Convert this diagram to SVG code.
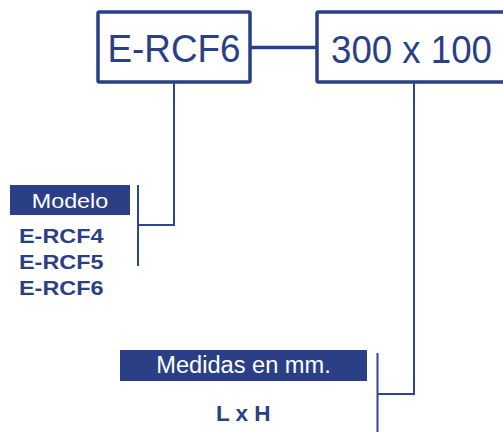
<svg xmlns="http://www.w3.org/2000/svg" width="503" height="432" viewBox="0 0 503 432">
<style>
.box{fill:#fff;stroke:#2b3f86;stroke-width:3.5}
.big{font-family:"Liberation Sans",Arial,sans-serif;font-size:39.5px;fill:#2b3f86}
.ban{fill:#2b3f86}
.bt{font-family:"Liberation Sans",Arial,sans-serif;fill:#fff}
.bold{font-family:"Liberation Sans",Arial,sans-serif;font-weight:bold;fill:#2b3f86}
.ln{fill:none;stroke:#2f4597;stroke-width:2}
</style>
<rect width="503" height="432" fill="#fff"/>
<g id="connectors">
<line class="ln" x1="250" y1="47.5" x2="317" y2="47.5" style="stroke-width:3.5;stroke:#2b3f86"/>
<polyline class="ln" points="174,82 174,225 138,225"/>
<line class="ln" x1="138" y1="185" x2="138" y2="266"/>
<polyline class="ln" points="414,82 414,394 377.5,394"/>
<line class="ln" x1="377.5" y1="353" x2="377.5" y2="432"/>
</g>
<g id="model-box">
<rect class="box" x="98" y="12" width="152" height="70" rx="1.5"/>
<text class="big" x="174" y="62" text-anchor="middle" textLength="133" lengthAdjust="spacingAndGlyphs">E-RCF6</text>
</g>
<g id="size-box">
<rect class="box" x="317" y="12" width="200" height="70" rx="1.5"/>
<text class="big" x="331" y="62.5" textLength="161" lengthAdjust="spacingAndGlyphs">300 x 100</text>
</g>
<g id="modelo-legend">
<rect class="ban" x="10" y="185" width="120" height="30"/>
<text class="bt" x="70" y="208.3" font-size="19.5" text-anchor="middle" textLength="76.5" lengthAdjust="spacingAndGlyphs">Modelo</text>
<text class="bold" x="19" y="243.3" font-size="20" textLength="84.5" lengthAdjust="spacingAndGlyphs">E-RCF4</text>
<text class="bold" x="19" y="269" font-size="20" textLength="84.5" lengthAdjust="spacingAndGlyphs">E-RCF5</text>
<text class="bold" x="19" y="295" font-size="20" textLength="84.5" lengthAdjust="spacingAndGlyphs">E-RCF6</text>
</g>
<g id="medidas-legend">
<rect class="ban" x="120" y="350" width="247" height="31"/>
<text class="bt" x="243.5" y="373.3" font-size="23" text-anchor="middle" textLength="174.5" lengthAdjust="spacingAndGlyphs">Medidas en mm.</text>
<text class="bold" x="243.3" y="420.7" font-size="22.5" text-anchor="middle" textLength="54.7" lengthAdjust="spacingAndGlyphs">L x H</text>
</g>
</svg>
